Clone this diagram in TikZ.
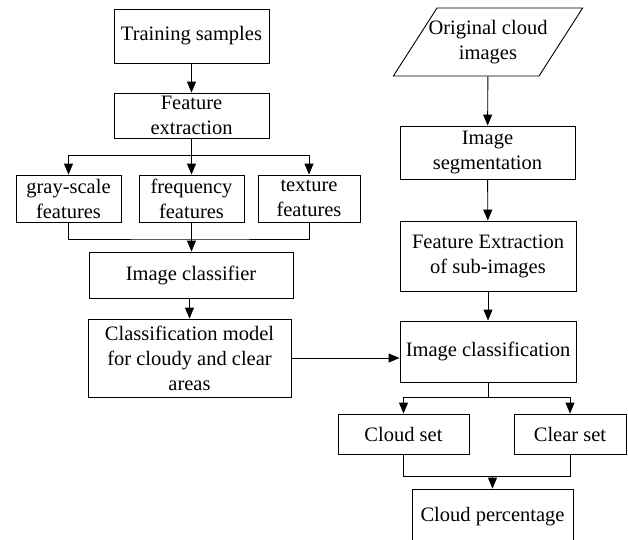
\documentclass[tikz,border=0pt]{standalone}
\usepackage{fontspec}
\setmainfont{Liberation Serif}
\usetikzlibrary{arrows.meta,shapes.geometric}
\begin{document}
\begin{tikzpicture}[x=1pt,y=-1pt,font=\fontsize{20.5}{25}\selectfont,
  box/.style={draw, line width=0.9pt, align=center, inner sep=0pt},
  arr/.style={-{Triangle[length=11pt,width=9pt]}, line width=0.9pt},
  lnk/.style={line width=0.9pt}]
\useasboundingbox (0,0) rectangle (628,539);
\clip (0,0) rectangle (628,539);
% left column
\node[box, minimum width=155, minimum height=54] (train) at (191.5,36) {Training samples};
\node[box, minimum width=155, minimum height=45] (featx) at (191.5,115.5) {Feature\\extraction};
\node[box, minimum width=105, minimum height=47] (gray) at (68.5,198.5) {gray-scale\\features};
\node[box, minimum width=105, minimum height=47] (freq) at (191.5,198.5) {frequency\\features};
\node[box, minimum width=102, minimum height=47] (tex) at (309,198.5) {texture\\features};
\node[box, minimum width=204, minimum height=46] (clsf) at (191,275) {Image classifier};
\node[box, minimum width=203, minimum height=78] (model) at (189.5,358) {Classification model\\for cloudy and clear\\areas};
% right column
\node[box, trapezium, trapezium left angle=45, trapezium right angle=135, trapezium stretches body,
  inner xsep=-8.5pt, minimum width=160, minimum height=68] (orig) at (488,42) {Original cloud\\images};
\node[box, minimum width=175, minimum height=53] (seg) at (487.5,152.5) {Image\\segmentation};
\node[box, minimum width=176, minimum height=70] (fext) at (488,256) {Feature Extraction\\of sub-images};
\node[box, minimum width=176, minimum height=61] (imgcls) at (488,351.5) {Image classification};
\node[box, minimum width=131, minimum height=40] (cset) at (403.5,434) {Cloud set};
\node[box, minimum width=112, minimum height=40] (clset) at (570,434) {Clear set};
\node[box, minimum width=161, minimum height=56] (pct) at (492.5,517) {Cloud percentage};
% connectors
\coordinate (fb) at (191.5,155);
\coordinate (mb) at (191.5,239);
\coordinate (cb) at (488,397);
\coordinate (pb) at (492.5,476);
\draw[arr] (train) -- (featx);
\draw[lnk] (featx) -- (fb);
\draw[arr] (fb) -| (gray);
\draw[arr] (fb) -- (freq);
\draw[arr] (fb) -| (tex);
\draw[lnk] (gray) |- (mb) -| (tex);
\draw[arr] (freq.south) -- (freq.south |- clsf.north);
\draw[arr] (model.north |- clsf.south) -- (model.north);
\draw[arr] (model.east) -- (model.east -| imgcls.west);
\draw[arr] (orig) -- (seg);
\draw[arr] (seg) -- (fext);
\draw[arr] (fext) -- (imgcls);
\draw[lnk] (imgcls) -- (cb);
\draw[arr] (cb) -| (cset);
\draw[arr] (cb) -| (clset);
\draw[lnk] (cset) |- (pb) -| (clset);
\draw[arr] (pb) -- (pct);
\end{tikzpicture}
\end{document}
